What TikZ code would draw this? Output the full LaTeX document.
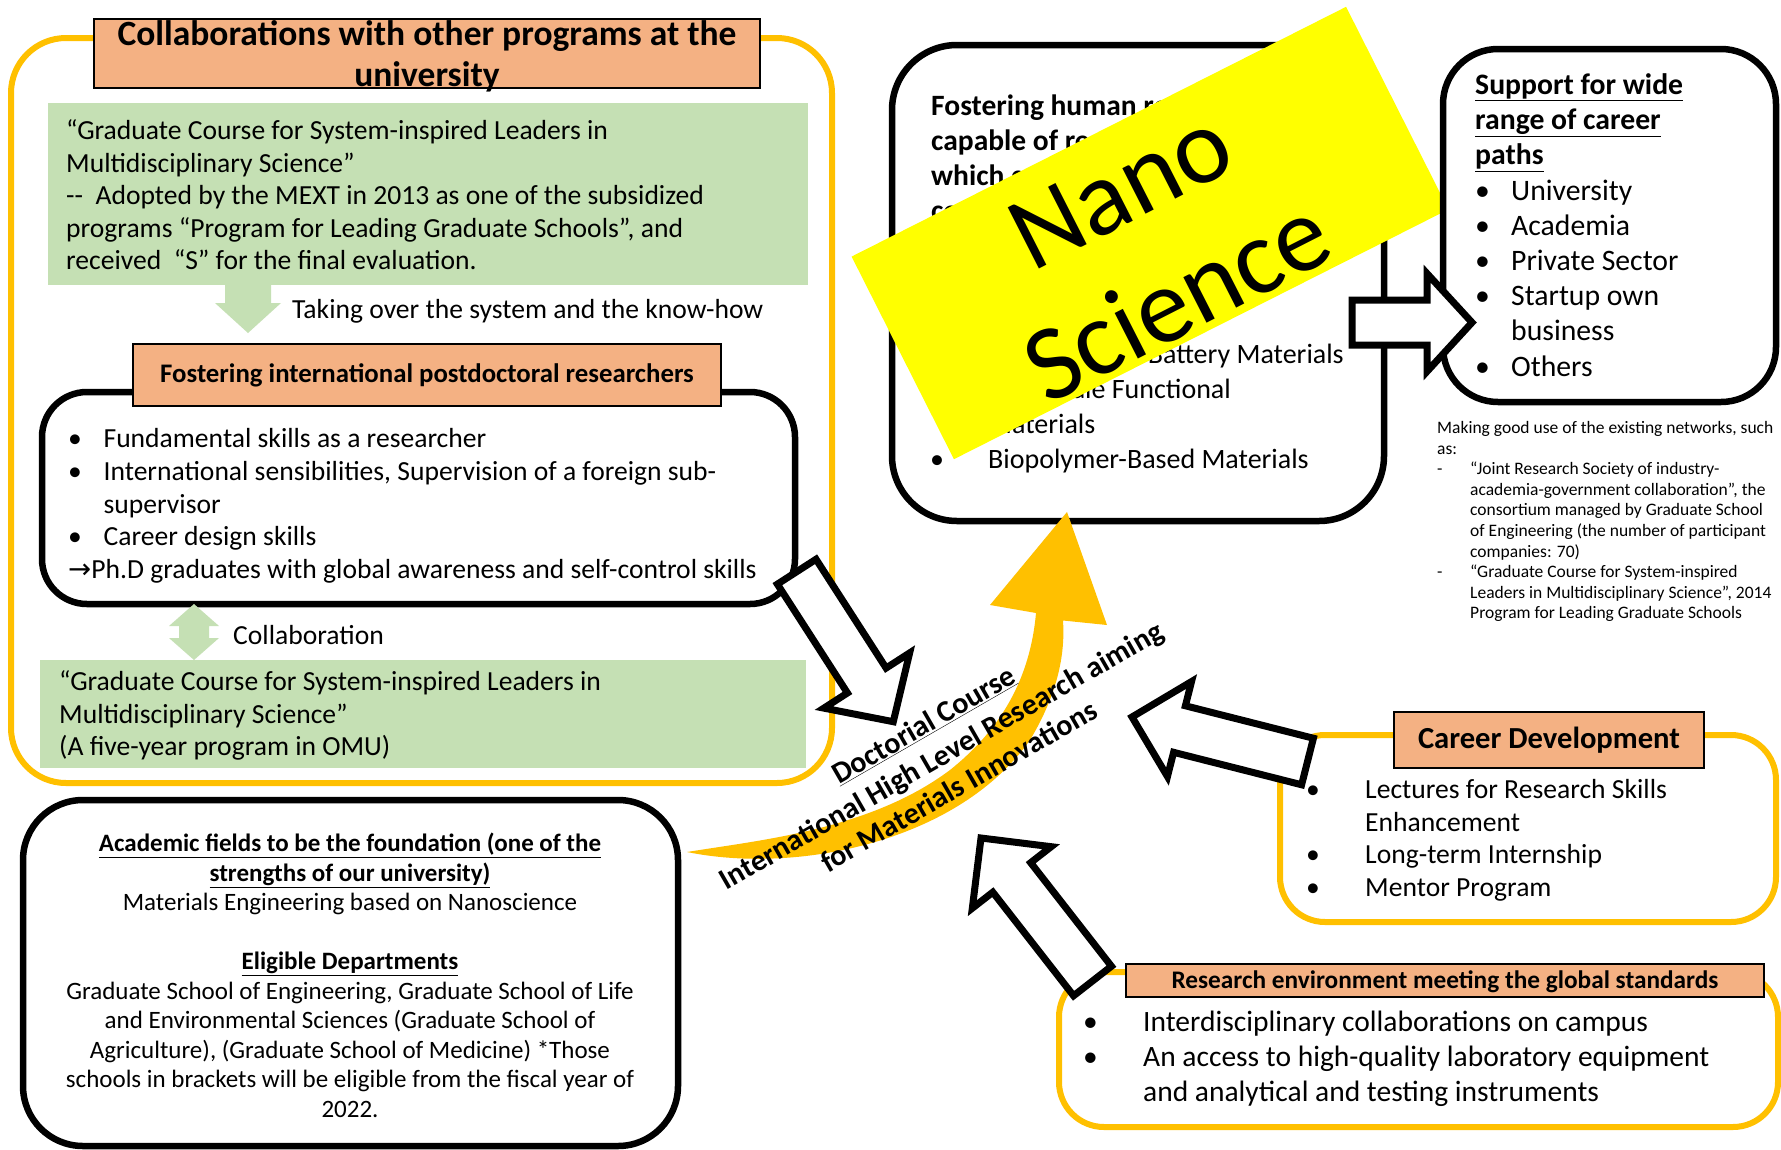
\documentclass[tikz,border=0pt]{standalone}
\usepackage{fontspec}
\setmainfont{Carlito}
\newfontfamily\djv{DejaVu Sans}
\usetikzlibrary{calc}
\definecolor{orng}{HTML}{FFC000}
\definecolor{ttl}{HTML}{F4B183}
\definecolor{grn}{HTML}{C5E0B4}
\definecolor{ylw}{HTML}{FFFF00}
\newcommand\fs[2]{\fontsize{#1}{#2}\selectfont}
\newcommand\fl{\rule{0pt}{0.9em}}
\newcommand\bul[1]{\makebox[#1][l]{•}}
\newcommand\blockarrow[6]{%
  \coordinate (#1-hb) at ($(#2)!#5!(#1)$);
  \path[#6] ($(#1)!#3!90:(#2)$) -- ($(#1-hb)!#3!90:(#2)$) -- ($(#1-hb)!#4!90:(#2)$) -- (#2)
    -- ($(#1-hb)!#4!-90:(#2)$) -- ($(#1-hb)!#3!-90:(#2)$) -- ($(#1)!#3!-90:(#2)$) -- cycle;}
\tikzset{
  obox/.style={draw=orng, line width=6pt},
  bbox/.style={draw=black, line width=6.5pt, fill=white},
  tbox/.style={draw=black, line width=2.5pt, fill=ttl},
  gbox/.style={fill=grn},
  harrow/.style={draw=black, line width=7pt, fill=white},
  garrow/.style={fill=grn},
  txt/.style={inner sep=0pt, align=left, anchor=north west},
  ctxt/.style={inner sep=0pt, align=center, anchor=north},
}
\begin{document}
\begin{tikzpicture}[x=1pt, y=-1pt]
\useasboundingbox (0,0) rectangle (1781,1149);
\fill[white] (0,0) rectangle (1781,1149);

% ---------- left orange block ----------
\draw[obox, rounded corners=55pt] (11,38) rectangle (832,783);
\fill[gbox] (48,103) rectangle (808,285);
\node[txt, font=\fs{27.6}{32.6}] (g1) at (66,114.5) {\fl “Graduate Course for System-inspired Leaders in\\Multidisciplinary Science”\\-{}-\ \ Adopted by the MEXT in 2013 as one of the subsidized\\programs “Program for Leading Graduate Schools”, and\\received \ “S” for the final evaluation.};
\coordinate (gA) at (248,285); \coordinate (gAt) at (248,333);
\blockarrow{gA}{gAt}{23pt}{33pt}{30pt}{garrow}
\node[txt, font=\fs{27.6}{32.6}] (tk) at (292,293.5) {\fl Taking over the system and the know-how};

\draw[bbox, rounded corners=45pt] (42,392) rectangle (795,604);
\draw[tbox] (133,344) rectangle (721,406);
\node[ctxt, font=\fs{26.8}{30}\bfseries] (t2) at (427,358.6) {\fl Fostering international postdoctoral researchers};
\node[txt, font=\fs{27.6}{32.75}] (pd) at (68,422.5) {\fl\bul{35.4pt}Fundamental skills as a researcher\\\bul{35.4pt}International sensibilities, Supervision of a foreign sub-\\\hspace*{35.4pt}supervisor\\\bul{35.4pt}Career design skills\\{\djv →}Ph.D graduates with global awareness and self-control skills};

\coordinate (dt) at (194,604); \coordinate (db) at (194,660);
\fill[garrow] (dt) -- (219,626) -- (209,626) -- (209,638) -- (219,638) -- (db) -- (169,638) -- (179,638) -- (179,626) -- (169,626) -- cycle;
\node[txt, font=\fs{27.6}{32.6}] (co) at (233,619.5) {\fl Collaboration};

\fill[gbox] (40,660) rectangle (806,768);
\node[txt, font=\fs{27.6}{32.6}] (g2) at (59,665.5) {\fl “Graduate Course for System-inspired Leaders in\\Multidisciplinary Science”\\(A five-year program in OMU)};

\draw[tbox] (94,19) rectangle (760,88);
\node[ctxt, font=\fs{35.5}{41}\bfseries] (t1) at (427,13) {\fl Collaborations with other programs at the\\university};

% ---------- bottom left ----------
\draw[bbox, rounded corners=60pt] (23,800) rectangle (678,1146);
\node[ctxt, font=\fs{25}{29.5}] (bl) at (350,829) {\fl\textbf{\underline{Academic fields to be the foundation (one of the}}\\\textbf{\underline{strengths of our university)}}\\Materials Engineering based on Nanoscience\\[29.5pt]\textbf{\underline{Eligible Departments}}\\Graduate School of Engineering, Graduate School of Life\\and Environmental Sciences (Graduate School of\\Agriculture), (Graduate School of Medicine) *Those\\schools in brackets will be eligible from the fiscal year of\\2022.};

% ---------- top centre ----------
\draw[bbox, rounded corners=65pt] (892,45) rectangle (1384,521);
\node[txt, font=\fs{29.5}{35}\bfseries] (tc) at (931,89) {\fl Fostering human resources\\capable of research\\which creates innovation\\contributing to society};
\node[txt, font=\fs{28}{35}] (tcb) at (930,338.5) {\fl\bul{58pt}Rechargeable Battery Materials\\\bul{58pt}Nanoscale Functional\\\hspace*{58pt}Materials\\\bul{58pt}Biopolymer-Based Materials};
\node[fill=ylw, minimum width=554pt, minimum height=227pt, inner sep=0pt, rotate=26.8] (yr) at (1150,233) {};
\node[inner sep=0pt, align=center, font=\fs{107}{125}, rotate=27] (nano) at (1149,245) {Nano\\Science};

% ---------- top right ----------
\draw[bbox, rounded corners=55pt] (1443,49) rectangle (1776,402);
\node[txt, font=\fs{29.7}{35.2}] (rb) at (1475,67.5) {\fl\textbf{\underline{Support for wide}}\\\textbf{\underline{range of career}}\\\textbf{\underline{paths}}\\\bul{36pt}University\\\bul{36pt}Academia\\\bul{36pt}Private Sector\\\bul{36pt}Startup own\\\hspace*{36pt}business\\\bul{36pt}Others};
\coordinate (aR) at (1352,322.5); \coordinate (aRt) at (1472,322.5);
\blockarrow{aR}{aRt}{22.5pt}{49pt}{45pt}{harrow}

\node[txt, font=\fs{17.5}{20.6}] (nt) at (1437,417.5) {\fl Making good use of the existing networks, such\\as:\\\makebox[33pt][l]{-}“Joint Research Society of industry-\\\hspace*{33pt}academia-government collaboration”, the\\\hspace*{33pt}consortium managed by Graduate School\\\hspace*{33pt}of Engineering (the number of participant\\\hspace*{33pt}companies: 70)\\\makebox[33pt][l]{-}“Graduate Course for System-inspired\\\hspace*{33pt}Leaders in Multidisciplinary Science”, 2014\\\hspace*{33pt}Program for Leading Graduate Schools};

% ---------- career development ----------
\draw[obox, rounded corners=45pt] (1280,735) rectangle (1776,922);
\draw[tbox] (1394,712) rectangle (1704,768);
\node[ctxt, font=\fs{30.6}{35}\bfseries] (cd) at (1549,720.5) {\fl Career Development};
\node[txt, font=\fs{27.6}{32.7}] (cdl) at (1306,773.5) {\fl\bul{59pt}Lectures for Research Skills\\\hspace*{59pt}Enhancement\\\bul{59pt}Long-term Internship\\\bul{59pt}Mentor Program};

% ---------- research environment ----------
\draw[obox, rounded corners=45pt] (1059,972) rectangle (1778,1127);
\draw[tbox] (1126,964) rectangle (1764,997);
\node[ctxt, font=\fs{25.3}{30}\bfseries] (re) at (1445,965.5) {\fl Research environment meeting the global standards};
\node[txt, font=\fs{29.5}{35}] (rel) at (1083,1005) {\fl\bul{60pt}Interdisciplinary collaborations on campus\\\bul{60pt}An access to high-quality laboratory equipment\\\hspace*{60pt}and analytical and testing instruments};

% ---------- central curved arrow ----------
\coordinate (ctail) at (687,852); \coordinate (ctip) at (1067,512);
\fill[orng] (1036,613) -- (990,605) -- (ctip) -- (1107,625) -- (1063,620.5)
  .. controls (1065,650) and (1060,690) .. (1030,740)
  .. controls (960,840) and (800,875) .. (ctail)
  .. controls (760,840) and (870,830) .. (950,770)
  .. controls (1000,730) and (1030,680) .. (1036,613) -- cycle;
\node[inner sep=0pt, align=center, font=\fs{30}{35.5}\bfseries, rotate=30] (dc) at (941,755) {\underline{Doctorial Course}\\International High Level Research aiming\\for Materials Innovations};

% ---------- hollow block arrows ----------
\coordinate (aA) at (796.7,571.7); \coordinate (aAt) at (893.3,721.7);
\blockarrow{aA}{aAt}{23pt}{51pt}{49pt}{harrow}
\coordinate (aB) at (1307.5,761.5); \coordinate (aBt) at (1132,717);
\blockarrow{aB}{aBt}{24pt}{49pt}{49pt}{harrow}
\coordinate (aC) at (1092.5,981); \coordinate (aCt) at (981,838);
\blockarrow{aC}{aCt}{24pt}{50pt}{50pt}{harrow}
\end{tikzpicture}
\end{document}
